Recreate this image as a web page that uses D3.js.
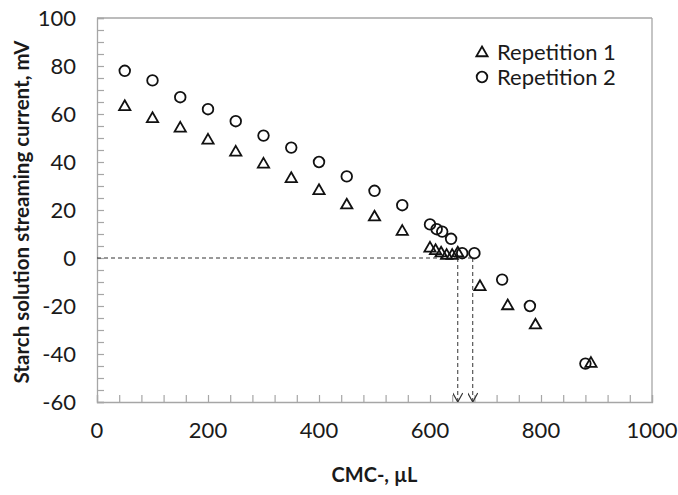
<!DOCTYPE html>
<html>
<head>
<meta charset="utf-8">
<script src="https://cdn.jsdelivr.net/npm/d3@7"></script>
<style>
  body { margin: 0; background: #fff; }
  text { font-family: Lato, "Open Sans", sans-serif; fill: #1a1a1a; }
</style>
</head>
<body>
<svg id="chart" width="678" height="495"></svg>
<script>
// data
const rep1X = [50, 100, 150, 200, 250, 300, 350, 400, 450, 500, 550, 600, 610, 620, 630, 640, 650, 690, 740, 790, 890];
const rep1Y = [63, 58, 54, 49, 44, 39, 33, 28, 22, 17, 11, 4, 3, 2, 1, 1, 2, -12, -20, -28, -44];
const rep2X = [50, 100, 150, 200, 250, 300, 350, 400, 450, 500, 550, 600, 612, 622, 638, 658, 680, 730, 780, 880];
const rep2Y = [78, 74, 67, 62, 57, 51, 46, 40, 34, 28, 22, 14, 12, 11, 8, 2, 2, -9, -20, -44];
const endpoints = [650, 677];   // dashed arrows down to x axis
const xTicks = [0, 200, 400, 600, 800, 1000];
const yTicks = [-60, -40, -20, 0, 20, 40, 60, 80, 100];
const seriesNames = ["Repetition 1", "Repetition 2"];

const svg = d3.select("#chart");
const margin = { left: 97, right: 26, top: 18, bottom: 93 };
const width = 678, height = 495;

const x = d3.scaleLinear().domain([0, 1000]).range([margin.left, width - margin.right]);
const y = d3.scaleLinear().domain([-60, 100]).range([height - margin.bottom, margin.top]);

const axisColor = "#a6a6a6";

// frame top / right
svg.append("line")
  .attr("x1", x(0)).attr("x2", x(1000)).attr("y1", y(100)).attr("y2", y(100))
  .attr("stroke", axisColor).attr("stroke-width", 1.3);
svg.append("line")
  .attr("x1", x(1000)).attr("x2", x(1000)).attr("y1", y(100)).attr("y2", y(-60))
  .attr("stroke", axisColor).attr("stroke-width", 1.3);

// minor ticks (inside)
const xAxis = d3.axisBottom(x).tickValues(d3.range(0, 1001, 40)).tickSize(-7).tickFormat("");
const gx = svg.append("g").attr("transform", `translate(0,${y(-60)})`).call(xAxis);
const yAxis = d3.axisLeft(y).tickValues(d3.range(-60, 101, 5)).tickSize(-7).tickFormat("");
const gy = svg.append("g").attr("transform", `translate(${x(0)},0)`).call(yAxis);
[gx, gy].forEach(g => {
  g.select(".domain").attr("stroke", axisColor).attr("stroke-width", 1.3);
  g.selectAll(".tick line").attr("stroke", axisColor).attr("stroke-width", 1.2);
});

// tick labels
svg.append("g").selectAll("text").data(xTicks).join("text")
  .attr("x", d => x(d)).attr("y", 438)
  .attr("text-anchor", "middle")
  .attr("font-size", 22)
  .text(d => d);
svg.append("g").selectAll("text").data(yTicks).join("text")
  .attr("x", 76).attr("y", d => y(d) + 8)
  .attr("text-anchor", "end")
  .attr("font-size", 22)
  .text(d => d);

// axis titles
svg.append("text")
  .attr("x", (x(0) + x(1000)) / 2).attr("y", 482)
  .attr("text-anchor", "middle")
  .attr("font-size", 20).attr("font-weight", "bold")
  .text("CMC-, µL");
svg.append("text")
  .attr("transform", `translate(29,${(y(100) + y(-60)) / 2 + 2}) rotate(-90)`)
  .attr("text-anchor", "middle")
  .attr("font-size", 20.5).attr("font-weight", "bold")
  .text("Starch solution streaming current, mV");

// dashed guide lines
svg.append("defs").append("marker")
  .attr("id", "arrow").attr("viewBox", "0 0 10 10")
  .attr("refX", 10).attr("refY", 5)
  .attr("markerWidth", 10).attr("markerHeight", 10)
  .attr("markerUnits", "userSpaceOnUse")
  .attr("orient", "auto")
  .append("path").attr("d", "M1,0 L10,5 L1,10")
  .attr("fill", "none").attr("stroke", "#333").attr("stroke-width", 1.2);

svg.append("line")
  .attr("x1", x(0)).attr("x2", x(d3.max(endpoints))).attr("y1", y(0)).attr("y2", y(0))
  .attr("stroke", "#333").attr("stroke-width", 1).attr("stroke-dasharray", "4,3");
svg.append("g").selectAll("line").data(endpoints).join("line")
  .attr("x1", d => x(d)).attr("x2", d => x(d))
  .attr("y1", y(0)).attr("y2", y(-60))
  .attr("stroke", "#333").attr("stroke-width", 1).attr("stroke-dasharray", "4,3")
  .attr("marker-end", "url(#arrow)");

// markers
const tri = d3.symbol().type(d3.symbolTriangle).size(55);
const rep1 = rep1X.map((v, i) => [v, rep1Y[i]]);
const rep2 = rep2X.map((v, i) => [v, rep2Y[i]]);

svg.append("g").selectAll("path").data(rep1).join("path")
  .attr("d", tri)
  .attr("transform", d => `translate(${x(d[0])},${y(d[1])})`)
  .attr("fill", "none").attr("stroke", "#111").attr("stroke-width", 1.8);

svg.append("g").selectAll("circle").data(rep2).join("circle")
  .attr("cx", d => x(d[0])).attr("cy", d => y(d[1])).attr("r", 5.3)
  .attr("fill", "none").attr("stroke", "#111").attr("stroke-width", 1.8);

// legend
const legend = svg.append("g").attr("transform", "translate(482,52)");
legend.append("path").attr("d", tri).attr("transform", "translate(0,1)")
  .attr("fill", "none").attr("stroke", "#111").attr("stroke-width", 1.8);
legend.append("circle").attr("cx", 0).attr("cy", 25).attr("r", 5.3)
  .attr("fill", "none").attr("stroke", "#111").attr("stroke-width", 1.8);
legend.selectAll("text").data(seriesNames).join("text")
  .attr("x", 15).attr("y", (d, i) => i * 25 + 8)
  .attr("font-size", 22)
  .text(d => d);
</script>
</body>
</html>
